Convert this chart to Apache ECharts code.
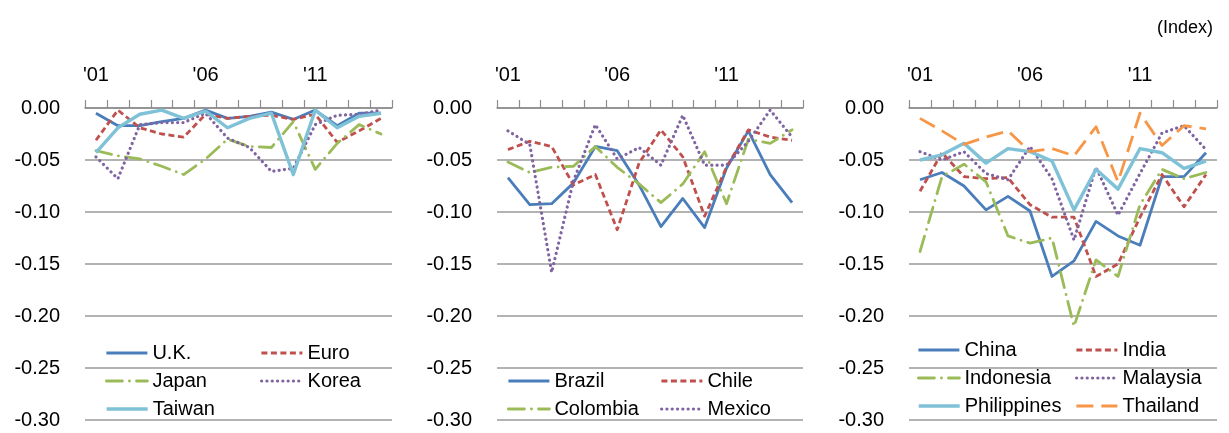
<!DOCTYPE html>
<html>
<head>
<meta charset="utf-8">
<script src="https://cdn.jsdelivr.net/npm/echarts@6/dist/echarts.min.js"></script>
<style>
  html, body { margin: 0; padding: 0; background: #fff; }
  #chart { width: 1229px; height: 433px; }
</style>
</head>
<body>
<div id="chart"></div>
<script>
// Years 2001-2014; only '01, '06 and '11 are labelled
const years = ["'01", "'02", "'03", "'04", "'05", "'06", "'07", "'08", "'09", "'10", "'11", "'12", "'13", "'14"];
const yTicks = [0, -0.05, -0.10, -0.15, -0.20, -0.25, -0.30];

// Advanced economies
const uk      = [-0.005, -0.017, -0.017, -0.013, -0.010, -0.002, -0.010, -0.008, -0.004, -0.011, -0.002, -0.017, -0.005, -0.005];
const euro    = [-0.031, -0.002, -0.019, -0.025, -0.028, -0.006, -0.010, -0.008, -0.007, -0.011, -0.006, -0.033, -0.022, -0.010];
const japan   = [-0.041, -0.046, -0.049, -0.056, -0.064, -0.049, -0.030, -0.037, -0.038, -0.013, -0.059, -0.034, -0.016, -0.025];
const korea   = [-0.047, -0.068, -0.016, -0.014, -0.014, -0.005, -0.029, -0.038, -0.061, -0.058, -0.016, -0.007, -0.006, -0.002];
const taiwan  = [-0.043, -0.019, -0.006, -0.002, -0.010, -0.003, -0.019, -0.010, -0.005, -0.064, -0.002, -0.019, -0.008, -0.005];

// Latin America
const brazil   = [-0.067, -0.093, -0.092, -0.072, -0.037, -0.041, -0.074, -0.114, -0.087, -0.115, -0.058, -0.022, -0.064, -0.091];
const chile    = [-0.040, -0.032, -0.037, -0.074, -0.064, -0.117, -0.053, -0.021, -0.047, -0.104, -0.057, -0.021, -0.028, -0.031];
const colombia = [-0.052, -0.062, -0.057, -0.056, -0.037, -0.057, -0.073, -0.091, -0.073, -0.042, -0.092, -0.030, -0.034, -0.021];
const mexico   = [-0.022, -0.035, -0.158, -0.070, -0.016, -0.049, -0.038, -0.055, -0.007, -0.055, -0.055, -0.032, -0.002, -0.028];

// Emerging Asia
const china       = [-0.069, -0.062, -0.075, -0.098, -0.085, -0.099, -0.162, -0.147, -0.109, -0.123, -0.132, -0.066, -0.066, -0.043];
const india       = [-0.080, -0.043, -0.066, -0.068, -0.067, -0.093, -0.105, -0.105, -0.162, -0.150, -0.105, -0.064, -0.095, -0.064];
const indonesia   = [-0.138, -0.066, -0.054, -0.071, -0.123, -0.130, -0.125, -0.210, -0.146, -0.162, -0.093, -0.059, -0.068, -0.062];
const malaysia    = [-0.042, -0.050, -0.042, -0.063, -0.069, -0.037, -0.068, -0.127, -0.057, -0.103, -0.063, -0.024, -0.017, -0.040];
const philippines = [-0.050, -0.045, -0.034, -0.053, -0.039, -0.042, -0.051, -0.098, -0.059, -0.078, -0.039, -0.043, -0.058, -0.051];
const thailand    = [-0.010, -0.022, -0.035, -0.028, -0.022, -0.042, -0.039, -0.046, -0.018, -0.071, -0.005, -0.036, -0.017, -0.020];

const FONT = "'Liberation Sans', Arial, sans-serif";

// Line looks shared across the panels
const STYLES = {
  solid:   { color: '#4a7ebb', width: 2.8, type: 'solid', cap: 'butt' },
  dashed:  { color: '#c0504d', width: 2.8, type: [6, 3.5], cap: 'butt' },
  dashdot: { color: '#9bbb59', width: 2.8, type: [16, 7, 0.1, 7], cap: 'round' },
  dotted:  { color: '#8064a2', width: 3.2, type: [0.1, 5.2], cap: 'round' },
  light:   { color: '#7fc2d8', width: 3.4, type: 'solid', cap: 'butt' },
  longdash:{ color: '#f79646', width: 2.8, type: [17, 8], cap: 'butt' }
};

const panels = [
  { left: 85,  width: 307, items: [
    ['U.K.', uk, 'solid'], ['Euro', euro, 'dashed'], ['Japan', japan, 'dashdot'],
    ['Korea', korea, 'dotted'], ['Taiwan', taiwan, 'light']],
    legendCols: [105, 260], legendRows: [353, 381, 409] },
  { left: 497, width: 306, items: [
    ['Brazil', brazil, 'solid'], ['Chile', chile, 'dashed'],
    ['Colombia', colombia, 'dashdot'], ['Mexico', mexico, 'dotted']],
    legendCols: [507, 660], legendRows: [381, 409] },
  { left: 909, width: 308, items: [
    ['China', china, 'solid'], ['India', india, 'dashed'],
    ['Indonesia', indonesia, 'dashdot'], ['Malaysia', malaysia, 'dotted'],
    ['Philippines', philippines, 'light'], ['Thailand', thailand, 'longdash']],
    legendCols: [917, 1075], legendRows: [350, 378, 406] }
];

const grid = [], xAxis = [], yAxis = [], series = [], legend = [];

panels.forEach((p, gi) => {
  grid.push({ left: p.left, top: 108, width: p.width, height: 312, containLabel: false });
  xAxis.push({
    type: 'category', gridIndex: gi, data: years, position: 'top', boundaryGap: true,
    axisLine: { show: true, onZero: false, lineStyle: { color: '#8c8c8c', width: 1.5 } },
    axisTick: { show: true, inside: false, length: 8, interval: 0, alignWithLabel: false,
                lineStyle: { color: '#8c8c8c', width: 1.2 } },
    axisLabel: { interval: 4, margin: 23, color: '#000', fontSize: 20, fontFamily: FONT },
    splitLine: { show: false }
  });
  yAxis.push({
    type: 'value', gridIndex: gi, min: yTicks[yTicks.length - 1], max: yTicks[0], interval: 0.05,
    axisLine: { show: false }, axisTick: { show: false },
    axisLabel: { margin: 25, color: '#000', fontSize: 20, fontFamily: FONT,
                 formatter: v => (Math.abs(v) < 1e-9 ? 0 : v).toFixed(2) },
    splitLine: { show: true, lineStyle: { color: '#9a9a9a', width: 1.5 } }
  });
  p.items.forEach(([name, data, styleKey], k) => {
    const s = STYLES[styleKey];
    series.push({
      name, type: 'line', xAxisIndex: gi, yAxisIndex: gi, data,
      symbol: 'none', smooth: false, animation: false,
      lineStyle: { color: s.color, width: s.width, type: s.type, cap: s.cap, join: 'round' },
      itemStyle: { color: s.color }
    });
    const col = k % 2, row = Math.floor(k / 2);
    legend.push({
      data: [name], left: p.legendCols[col], top: p.legendRows[row] - 11,
      padding: 0, itemWidth: 41, itemHeight: 14, itemGap: 0, selectedMode: false,
      // line-only key: hide the marker drawn in the middle of the key line
      itemStyle: { opacity: 0, borderWidth: 0 },
      lineStyle: { width: s.width, opacity: 1 },
      textStyle: { color: '#000', fontSize: 20, fontFamily: FONT, lineHeight: 22 }
    });
  });
});

const chart = echarts.init(document.getElementById('chart'), null, { renderer: 'canvas' });
chart.setOption({
  animation: false,
  backgroundColor: '#ffffff',
  title: { text: '(Index)', right: 11, top: 14,
           textStyle: { fontSize: 18, fontWeight: 'normal', color: '#000', fontFamily: FONT } },
  grid, xAxis, yAxis, series, legend
});
</script>
</body>
</html>
